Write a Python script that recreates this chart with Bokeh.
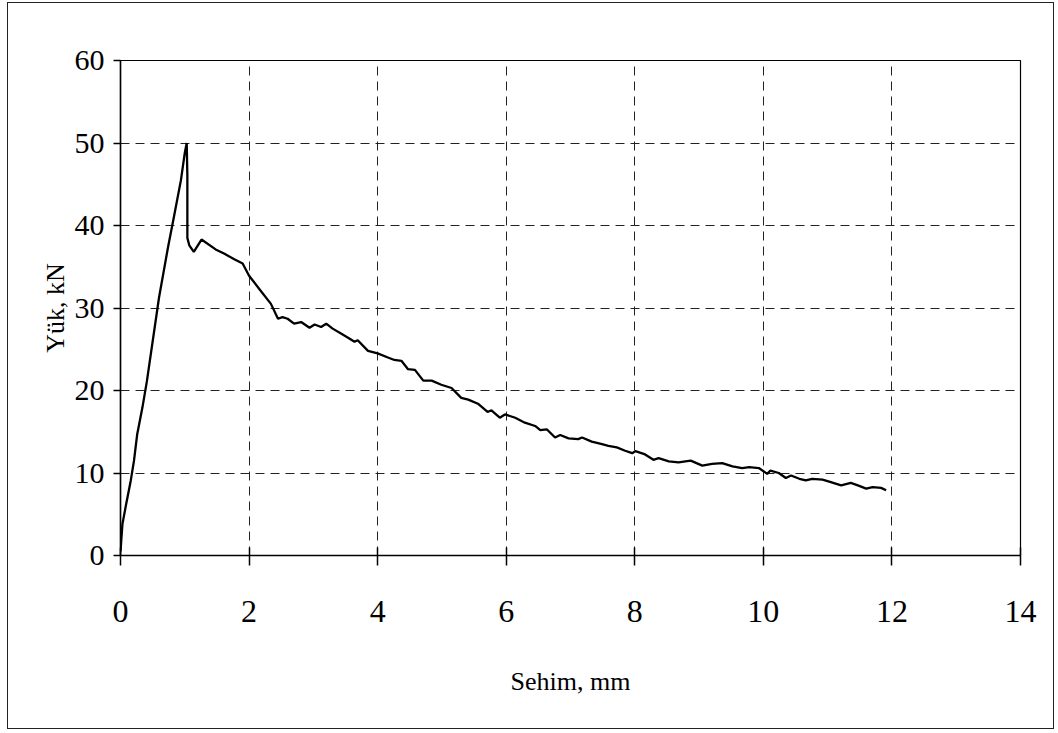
from bokeh.plotting import figure
from bokeh.models import FixedTicker, Range1d
from bokeh.embed import file_html
from bokeh.resources import INLINE

# Deflection (mm) and load (kN)
sehim_mm = [0, 0.03, 0.08, 0.16, 0.21, 0.26, 0.34, 0.41, 0.60, 0.74,
            0.83, 0.94, 1.00, 1.03, 1.04, 1.04, 1.07, 1.14, 1.26, 1.48,
            1.61, 1.77, 1.90, 2.00, 2.18, 2.34, 2.45, 2.52, 2.60, 2.70,
            2.81, 2.94, 3.02, 3.12, 3.20, 3.30, 3.43, 3.54, 3.64, 3.69,
            3.85, 4.00, 4.16, 4.26, 4.37, 4.47, 4.58, 4.71, 4.84, 4.99,
            5.15, 5.30, 5.41, 5.56, 5.71, 5.77, 5.90, 5.98, 6.14, 6.29,
            6.45, 6.53, 6.63, 6.76, 6.84, 6.97, 7.12, 7.18, 7.33, 7.49,
            7.59, 7.72, 7.85, 7.96, 8.01, 8.16, 8.29, 8.37, 8.53, 8.68,
            8.87, 9.05, 9.20, 9.36, 9.52, 9.67, 9.78, 9.93, 10.06, 10.11,
            10.24, 10.35, 10.43, 10.56, 10.66, 10.76, 10.92, 11.05, 11.21, 11.36,
            11.47, 11.60, 11.70, 11.83, 11.91]
yuk_kn = [0.5, 3.8, 5.9, 9.1, 11.5, 14.7, 17.9, 21.1, 31.3, 37.4,
          41.0, 45.5, 48.8, 50.0, 46.0, 38.5, 37.6, 36.8, 38.3, 37.1,
          36.6, 35.9, 35.4, 33.9, 32.1, 30.5, 28.7, 28.9, 28.7, 28.1,
          28.3, 27.6, 28.0, 27.7, 28.1, 27.5, 26.9, 26.4, 25.9, 26.1,
          24.8, 24.5, 24.0, 23.7, 23.6, 22.6, 22.5, 21.2, 21.2, 20.7,
          20.3, 19.1, 18.9, 18.4, 17.4, 17.6, 16.7, 17.1, 16.7, 16.1,
          15.7, 15.2, 15.3, 14.3, 14.6, 14.2, 14.1, 14.3, 13.8, 13.5,
          13.3, 13.1, 12.7, 12.4, 12.65, 12.25, 11.6, 11.8, 11.4, 11.3,
          11.5, 10.9, 11.1, 11.2, 10.8, 10.6, 10.7, 10.6, 9.9, 10.3,
          10.0, 9.4, 9.7, 9.3, 9.1, 9.3, 9.2, 8.9, 8.5, 8.8,
          8.5, 8.1, 8.3, 8.2, 7.9]

x_ticks = [0, 2, 4, 6, 8, 10, 12, 14]
y_ticks = [0, 10, 20, 30, 40, 50, 60]
x_label = "Sehim, mm"
y_label = "Yük, kN"

FONT = "Liberation Serif"

p = figure(width=1047, height=727, output_backend="svg", toolbar_location=None,
           x_range=Range1d(0, 14), y_range=Range1d(0, 60),
           min_border_left=112, min_border_right=35, min_border_top=57, min_border_bottom=175)
p.styles = {"border": "1px solid #222", "margin-left": "7px", "margin-top": "2px"}

p.line(sehim_mm, yuk_kn, line_color="black", line_width=2.3)

p.outline_line_color = "black"
p.outline_line_width = 1.2

for ax in (p.xaxis[0], p.yaxis[0]):
    ax.axis_line_color = "black"
    ax.axis_line_width = 1.5
    ax.major_tick_line_color = "black"
    ax.major_tick_line_width = 1.5
    ax.minor_tick_line_color = None
    ax.major_label_text_font = FONT
    ax.major_label_text_color = "black"
    ax.axis_label_text_font = FONT
    ax.axis_label_text_font_style = "normal"
    ax.axis_label_text_color = "black"
    ax.axis_label_text_font_size = "26px"

p.xaxis.ticker = FixedTicker(ticks=x_ticks)
p.yaxis.ticker = FixedTicker(ticks=y_ticks)
p.xaxis.axis_label = x_label
p.yaxis.axis_label = y_label

p.xaxis.major_label_text_font_size = "32px"
p.xaxis.major_tick_in = 8
p.xaxis.major_tick_out = 10
p.xaxis.major_label_standoff = 35
p.xaxis.axis_label_standoff = 42

p.yaxis.major_label_text_font_size = "30px"
p.yaxis.major_tick_in = 0
p.yaxis.major_tick_out = 7
p.yaxis.major_label_standoff = 9
p.yaxis.axis_label_standoff = 2

p.xgrid.ticker = FixedTicker(ticks=x_ticks[1:-1])
p.ygrid.ticker = FixedTicker(ticks=y_ticks[1:-1])
p.xgrid.grid_line_color = "#222"
p.ygrid.grid_line_color = "#222"
p.xgrid.grid_line_dash = "9 6"
p.ygrid.grid_line_dash = "9 6"
p.xgrid.grid_line_width = 1
p.ygrid.grid_line_width = 1

p.background_fill_color = "white"
p.border_fill_color = "white"

open("out.html", "w").write(file_html(p, INLINE))
